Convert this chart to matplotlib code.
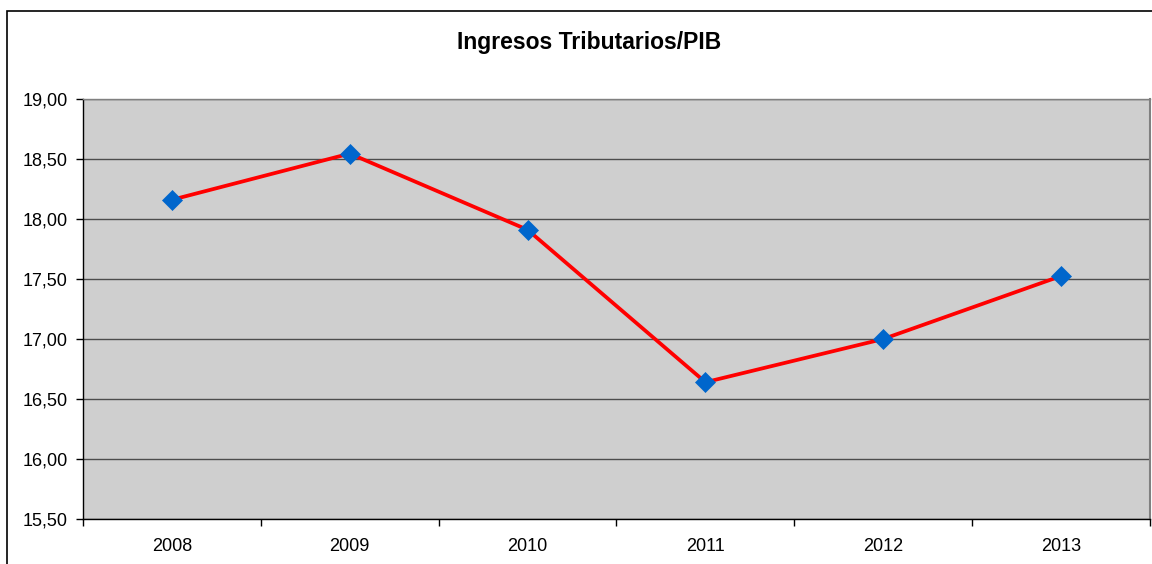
import matplotlib
matplotlib.use("Agg")
import matplotlib.pyplot as plt
from matplotlib.patches import Rectangle

years = ["2008", "2009", "2010", "2011", "2012", "2013"]
values = [18.16, 18.545, 17.91, 16.64, 17.00, 17.525]
yticks = [15.5, 16.0, 16.5, 17.0, 17.5, 18.0, 18.5, 19.0]
title = "Ingresos Tributarios/PIB"

plt.rcParams['font.family'] = ['Liberation Sans', 'DejaVu Sans']

fig = plt.figure(figsize=(11.52, 5.64), dpi=100)
fig.patch.set_facecolor("white")

# outer chart border
fig.add_artist(Rectangle((7/1152, -0.2), 1.2, 0.2 + (1 - 11/564), transform=fig.transFigure,
                         fill=False, edgecolor="black", linewidth=1.2))

ax = fig.add_axes([83/1152, 45/564, (1150-83)/1152, (519-99)/564])
ax.set_facecolor("#CFCFCF")
x = list(range(len(years)))
ax.plot(x, values, color="#FF0000", linewidth=2.7, zorder=3,
        marker="D", markersize=10.5, markerfacecolor="#0066CC", markeredgecolor="#0066CC",
        markeredgewidth=0.5)

ax.set_xlim(-0.5, len(years) - 0.5)
ax.set_ylim(15.5, 19.0)
ax.set_yticks(yticks)
ax.set_yticklabels([f"{v:.2f}".replace(".", ",") for v in yticks], fontsize=13)
ax.set_xticks(x)
ax.set_xticklabels(years, fontsize=13)
ax.tick_params(axis="x", length=0, pad=14)
ax.tick_params(axis="y", length=5, width=1, pad=6, direction="out")
# minor ticks at category boundaries
ax.set_xticks([i - 0.5 for i in range(len(years) + 1)], minor=True)
ax.tick_params(axis="x", which="minor", length=5, width=1, direction="out")

ax.grid(axis="y", color="#4d4d4d", linewidth=1)
ax.set_axisbelow(True)
for s in ["left", "bottom"]:
    ax.spines[s].set_color("black")
    ax.spines[s].set_linewidth(1)
ax.spines["top"].set_color("#808080")
ax.spines["right"].set_color("#808080")
ax.spines["top"].set_linewidth(1)
ax.spines["right"].set_linewidth(1.5)

fig.text(589.5/1152, 1 - 43/564, title, ha="center", va="center", fontsize=16.5, fontweight="bold")

fig.savefig("out.png", dpi=100)
